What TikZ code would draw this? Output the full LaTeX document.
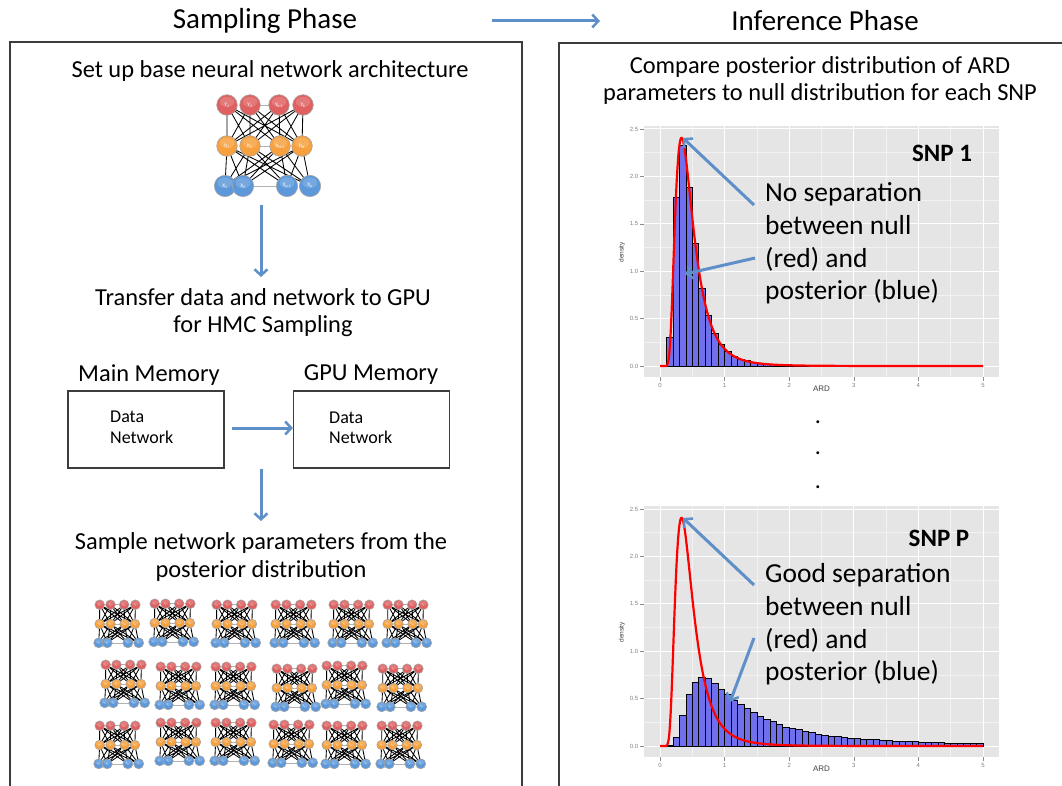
\documentclass[tikz,border=0pt]{standalone}
\usepackage{fontspec}
\setmainfont{Carlito}
\newfontfamily\axisfont{Liberation Sans}
\usetikzlibrary{arrows.meta,backgrounds}

\definecolor{flowblue}{RGB}{95,143,200}
\definecolor{nred}{RGB}{222,96,96}
\definecolor{norange}{RGB}{246,160,62}
\definecolor{nblue}{RGB}{92,152,218}
\definecolor{panelgray}{RGB}{229,229,229}
\definecolor{minorgray}{RGB}{242,242,242}
\definecolor{barblue}{RGB}{112,112,238}
\definecolor{framegray}{RGB}{60,60,60}

\tikzset{
  flow/.style={draw=flowblue, line width=3pt, -{Straight Barb[length=6pt,width=13pt,line width=2.5pt]}},
  phasebox/.style={draw=framegray, line width=1.2pt},
  membox/.style={draw=framegray, line width=1.2pt, minimum width=156pt, minimum height=77pt, inner sep=0pt},
  ndisc/.style={draw=black!35, line width=0.6pt},
  nlabel/.style={inner sep=0pt, text=white},
  netedge/.style={black, line width=0.85pt},
  netdash/.style={gray!60, line width=0.6pt},
  body/.style={font=\fontsize{24.4}{27.5}\selectfont, align=center, inner sep=0pt},
  title/.style={font=\fontsize{29}{34}\selectfont, inner sep=0pt},
  annot/.style={font=\fontsize{27.5}{32.7}\selectfont, align=left, inner sep=0pt, anchor=west},
  snp/.style={font=\bfseries\fontsize{25}{30}\selectfont, inner sep=0pt},
  axislab/.style={font=\axisfont\fontsize{6}{6}\selectfont, text=black!50, inner sep=1.5pt},
  tickmark/.style={draw=black!45, line width=0.5pt},
}

% one neuron: #1 x, #2 y, #3 radius, #4 colour, #5 name, #6 label, #7 font size
\newcommand{\neuron}[7]{%
  \path[ndisc, fill=#4] (#1,#2) circle[radius=#3];
  \fill[#4!55!white, opacity=0.35] ({#1},{#2-0.3*#3}) ellipse[x radius=0.7*#3, y radius=0.5*#3];
  \node[nlabel, font=\fontsize{#7}{#7}\selectfont] (#5) at (#1,#2) {#6};}

% neural network: #1 cx, #2 cy (hidden row), #3 scale, #4 label font size, #5 name prefix
\newcommand{\nnet}[5]{%
  \foreach \xx/\lab [count=\i] in {-39/{Y\textsubscript{1}},-16/{Y\textsubscript{2}},13/{Y\textsubscript{k-1}},37/{Y\textsubscript{k}}}{%
    \neuron{#1+\xx*#3}{#2-41*#3}{10.3*#3}{nred}{#5r\i}{\lab}{#4}}
  \foreach \xx/\lab [count=\i] in {-39/{h\textsubscript{1}},-16/{h\textsubscript{2}},14/{h\textsubscript{H-1}},36/{h\textsubscript{H}}}{%
    \neuron{#1+\xx*#3}{#2}{10.3*#3}{norange}{#5o\i}{\lab}{#4}}
  \foreach \xx/\lab [count=\i] in {-41/{X\textsubscript{1}},-23/{X\textsubscript{2}},21/{X\textsubscript{p-1}},44/{X\textsubscript{p}}}{%
    \neuron{#1+\xx*#3}{#2+40*#3}{10.7*#3}{nblue}{#5b\i}{\lab}{#4}}
  \begin{scope}[on background layer]
    \draw[netedge] foreach \i in {1,...,4}{foreach \j in {1,...,4}{(#5r\i.center) -- (#5o\j.center) (#5o\i.center) -- (#5b\j.center)}};
    \draw[netdash] (#5r2.center) -- (#5r3.center) (#5o2.center) -- (#5o3.center) (#5b2.center) -- (#5b3.center);
  \end{scope}
}

% ggplot-like panel: #1 pixel y of zero, #2 bar heights (bins of 0.1 from 0.1), #3 prefix
\newcommand{\ggpanel}[3]{%
\begin{scope}[shift={(660,#1)}, x=64.6pt, y=94.8pt]
  \fill[panelgray] (-0.25,-0.12) rectangle (5.25,2.53);
  \draw[minorgray, line width=0.5pt] foreach \v in {0.5,1.5,2.5,3.5,4.5}{(\v,-0.12) -- (\v,2.53)}
        foreach \v in {0.25,0.75,1.25,1.75,2.25}{(-0.25,\v) -- (5.25,\v)};
  \draw[white, line width=1pt] foreach \v in {0,...,5}{(\v,-0.12) -- (\v,2.53)}
        foreach \v in {0,0.5,1,1.5,2,2.5}{(-0.25,\v) -- (5.25,\v)};
  \foreach \h [count=\k] in {#2}{%
    \draw[fill=barblue, draw=black, line width=0.6pt] ({0.1*\k},0) rectangle ({0.1*\k+0.1},\h);}
  \draw[red, line width=2.2pt, line join=round] (0,0) -- (0.1,0) --
        plot[domain=0.1:3, samples=260] (\x,{4/3*exp(-2/\x-6*ln(\x))}) -- (5,0);
  \foreach \v/\t [count=\n] in {0/0.0,0.5/0.5,1/1.0,1.5/1.5,2/2.0,2.5/2.5}{%
    \draw[tickmark] (-0.25,\v) -- ++(-4pt,0pt) node[axislab, anchor=east] (#3y\n) {\t};}
  \foreach \v in {0,...,5}{%
    \draw[tickmark] (\v,-0.12) -- ++(0pt,-4pt) node[axislab, anchor=north] (#3x\v) {\v};}
  \node[font=\axisfont\fontsize{8}{8}\selectfont, text=black!75, yshift=-11.5pt] (#3ard) at (2.5,-0.12) {ARD};
  \node[font=\axisfont\fontsize{6.5}{6.5}\selectfont, text=black!75, rotate=90] (#3dens) at (-0.59,1.2) {density};
\end{scope}}

\begin{document}
\begin{tikzpicture}[x=1pt, y=-1pt]
\useasboundingbox (0,0) rectangle (1062,786);
\clip (0,0) rectangle (1062,786);

% titles
\node[title] (ttlS) at (265,21) {Sampling Phase};
\node[title] (ttlI) at (825,21) {Inference Phase};
\coordinate (ta) at (492,21);
\coordinate (tb) at (600,21);
\draw[flow] (ta) -- (tb);

% phase boxes
\draw[phasebox] (10,42) rectangle (522,800);
\draw[phasebox] (559,43) rectangle (1075,800);

% ---------- sampling phase ----------
\node[body] (setup) at (270,71) {Set up base neural network architecture};
\nnet{266}{146}{1}{5.5}{big}

\coordinate (d1a) at (261,205);
\coordinate (d1b) at (261,277);
\draw[flow] (d1a) -- (d1b);

\node[body] (transfer) at (263,312.5) {Transfer data and network to GPU\\for HMC Sampling};

\node[body] (mainlbl) at (149,375) {Main Memory};
\node[body] (gpulbl) at (371,375) {GPU Memory};
\node[membox] (mem1) at (146,429.5) {};
\node[membox] (mem2) at (371.5,429.5) {};
\node[font=\fontsize{18}{20.5}\selectfont, align=left, anchor=west, inner sep=0pt] (memtxt1) at (110,427.5) {Data\\Network};
\node[font=\fontsize{18}{20.5}\selectfont, align=left, anchor=west, inner sep=0pt] (memtxt2) at (329,428) {Data\\Network};
\draw[flow] ([xshift=7pt,yshift=1.5pt]mem1.east) -- ([yshift=1.5pt]mem2.west);

\coordinate (d2a) at (261,469);
\coordinate (d2b) at (261,521);
\draw[flow] (d2a) -- (d2b);

\node[body] (sample) at (261,557) {Sample network parameters from the\\posterior distribution};

% grid of sampled networks
\foreach \cx/\cy [count=\m] in {118/624,173/623,235/624,294/624,352/624,406/624,124/684,179/686,234/686,295/688,345/685,401/688,118/745,179/742,234/742,292/744,345/745,400/745}{%
  \nnet{\cx}{\cy}{0.47}{2.4}{s\m}}

% ---------- inference phase ----------
\node[body] (cmp) at (820,80.5) {Compare posterior distribution of ARD\\parameters to null distribution for each SNP};

\ggpanel{366}{0.30,1.78,2.33,1.89,1.29,0.82,0.53,0.35,0.23,0.15,0.105,0.075,0.055,0.04,0.03,0.022,0.017,0.013,0.01,0.008,0.006,0.005,0.004,0.003}{pa}
\ggpanel{746}{0.005,0.095,0.327,0.545,0.672,0.728,0.714,0.661,0.598,0.549,0.485,0.44,0.394,0.352,0.313,0.281,0.257,0.232,0.2,0.183,0.172,0.155,0.141,0.127,0.116,0.105,0.102,0.091,0.084,0.077,0.07,0.07,0.067,0.06,0.056,0.053,0.049,0.046,0.046,0.042,0.039,0.035,0.035,0.032,0.032,0.028,0.028,0.025,0.025}{pb}

\node[snp] (snp1) at (942,153) {SNP 1};
\node[snp] (snpP) at (939,538) {SNP P};

\node[annot] (ann1) at (765,243.5) {No separation\\between null\\(red) and\\posterior (blue)};
\node[annot] (ann2) at (765,624.5) {Good separation\\between null\\(red) and\\posterior (blue)};

\coordinate (a1t) at (754,205);  \coordinate (a1h) at (683,138);
\coordinate (a2t) at (755,258);  \coordinate (a2h) at (685,274);
\coordinate (a3t) at (754,585);  \coordinate (a3h) at (683,518);
\coordinate (a4t) at (754,638);  \coordinate (a4h) at (730,702);
\draw[flow] (a1t) -- (a1h);
\draw[flow] (a2t) -- (a2h);
\draw[flow] (a3t) -- (a3h);
\draw[flow] (a4t) -- (a4h);

\node[font=\fontsize{24}{24}\selectfont, inner sep=0pt] (dot1) at (818,422) {.};
\node[font=\fontsize{24}{24}\selectfont, inner sep=0pt] (dot2) at (818,453) {.};
\node[font=\fontsize{24}{24}\selectfont, inner sep=0pt] (dot3) at (818,487) {.};
\end{tikzpicture}
\end{document}
